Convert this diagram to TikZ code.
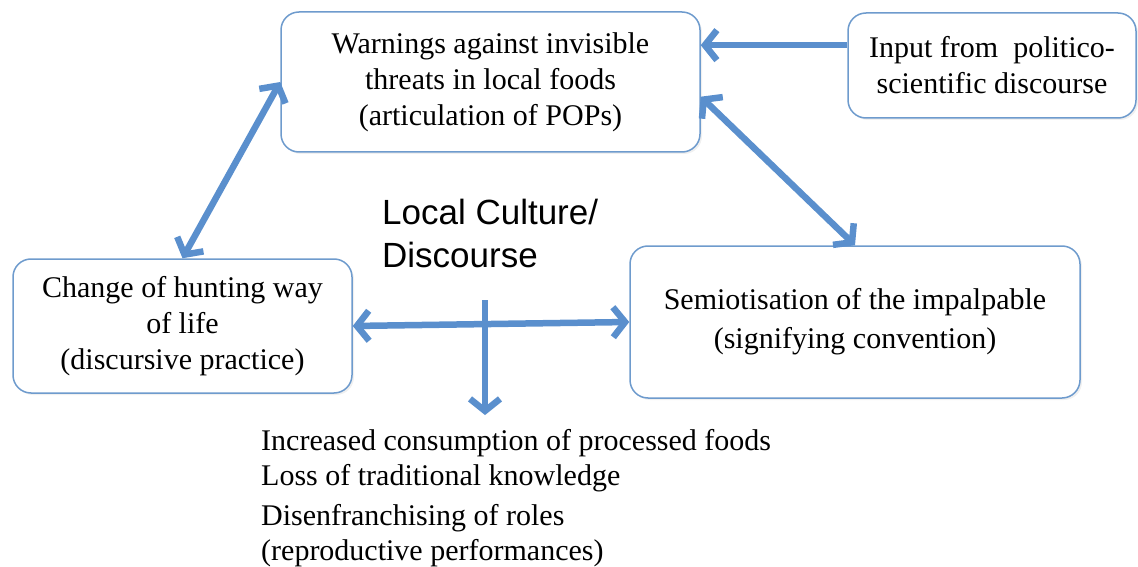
\documentclass[tikz,border=0pt]{standalone}
\usepackage{fontspec}
\setmainfont{Liberation Serif}
\newfontfamily\culturefont{Liberation Sans}
\usetikzlibrary{arrows.meta,shadows}

\definecolor{boxline}{RGB}{110,155,205}
\definecolor{arrowblue}{RGB}{90,143,205}

\tikzset{
  conceptbox/.style={draw=boxline, line width=1.5pt, rounded corners=18pt, fill=white,
    align=center, inner sep=0pt, font=\fontsize{30}{36}\selectfont,
    drop shadow={opacity=0.12, shadow xshift=2pt, shadow yshift=-2pt}},
  link/.style={draw=arrowblue, line width=6.5pt,
    arrows={-Straight Barb[length=12pt,width=30pt]}},
  biglink/.style={link, arrows={Straight Barb[length=12pt,width=30pt]-Straight Barb[length=12pt,width=30pt]}}
}

\begin{document}
\begin{tikzpicture}[x=1pt,y=-1pt]%
\useasboundingbox (0,0) rectangle (1138,567);
% boxes
\node[conceptbox, minimum width=419pt, minimum height=140pt] (warn) at (490.5,82)
  {Warnings against invisible\\threats in local foods\\(articulation of POPs)};
\node[conceptbox, minimum width=288pt, minimum height=105pt] (input) at (992,65.5)
  {Input from\ \ politico-\\scientific discourse};
\node[conceptbox, minimum width=339pt, minimum height=134pt] (hunt) at (182.5,326)
  {Change of hunting way\\of life\\(discursive practice)};
\node[conceptbox, minimum width=450pt, minimum height=152pt, font=\fontsize{30}{39}\selectfont] (semio) at (855,322)
  {Semiotisation of the impalpable\\(signifying convention)};
% free texts
\node[anchor=west, align=left, inner sep=0pt, font=\culturefont\fontsize{35}{43}\selectfont] (culture) at (382,233)
  {Local Culture/\\Discourse};
\node[anchor=west, align=left, inner sep=0pt, font=\fontsize{30}{35}\selectfont] (effects) at (261,498)
  {Increased consumption of processed foods\\Loss of traditional knowledge\\[5pt]Disenfranchising of roles\\(reproductive performances)};
% connectors
\coordinate (vtop) at (485,300);
\draw[link] (input.172) -- (input.172 -| warn.east);
\draw[biglink] (hunt.north) -- (warn.west);
\draw[biglink] (warn.-4) -- (semio.north);
\draw[biglink] (hunt.east) -- (semio.west);
\draw[link, shorten >=14pt] (vtop) -- (vtop |- effects.north);
\end{tikzpicture}
\end{document}
